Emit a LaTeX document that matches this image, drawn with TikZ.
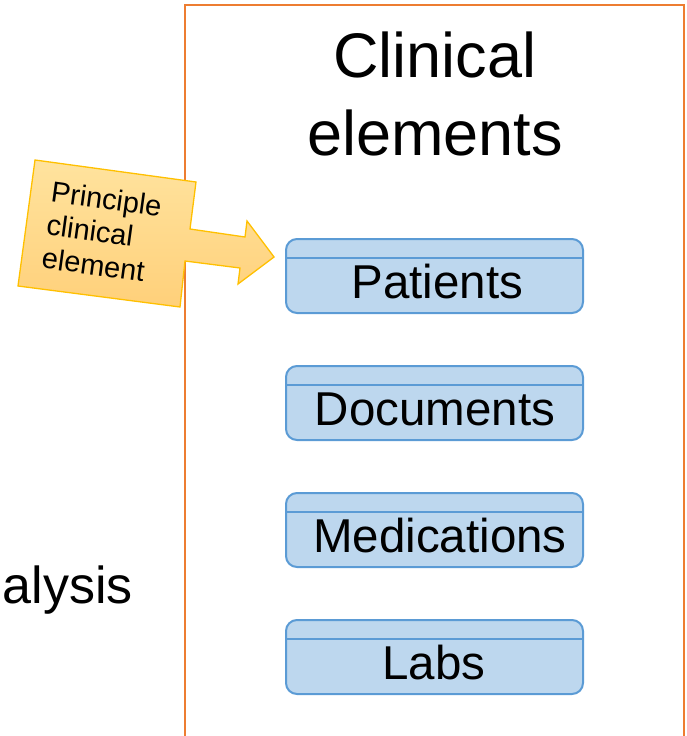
\documentclass[tikz,border=0pt]{standalone}
\usepackage{fontspec}
\setmainfont{Liberation Sans}
\begin{document}
\begin{tikzpicture}[x=1pt,y=-1pt,
  entbox/.style={draw=boxblue,line width=2pt,fill=boxfill,rounded corners=11pt,minimum width=297pt,minimum height=74pt,inner sep=0pt},
  entlabel/.style={font=\fontsize{47.5}{52}\selectfont,inner sep=0pt,anchor=base},
  titletext/.style={font=\fontsize{63}{75}\selectfont,inner sep=0pt,anchor=base}]
\definecolor{frameorange}{HTML}{ED7D31}
\definecolor{boxblue}{HTML}{5B9BD5}
\definecolor{boxfill}{HTML}{BDD7EE}
\definecolor{calloutborder}{HTML}{FFC000}
\definecolor{callouttop}{HTML}{FFE39E}
\definecolor{calloutbottom}{HTML}{FFD07A}
\useasboundingbox (0,0) rectangle (686,736);
% frame
\coordinate (fbl) at (185,745);
\coordinate (ftl) at (185,5);
\coordinate (ftr) at (684,5);
\coordinate (fbr) at (684,745);
\begin{scope}
\clip (0,0) rectangle (686,736);
\draw[frameorange,line width=2pt] (fbl) -- (ftl) -- (ftr) -- (fbr);
\end{scope}
\node[titletext] (title1) at (435,77) {Clinical};
\node[titletext] (title2) at (435,155) {elements};
\node[font=\fontsize{52}{60}\selectfont,anchor=base east,inner sep=0pt] (analysis) at (133,603) {alysis};
% boxes
\foreach \nm/\txt/\yy/\xx in {pat/Patients/276/437.5, doc/Documents/403/435, med/Medications/530/440, lab/Labs/657/434}{
  \node[entbox] (\nm) at (434.5,\yy) {};
  \draw[boxblue,line width=1.2pt] ([yshift=-20pt]\nm.north west) -- ([yshift=-20pt]\nm.north east);
  \node[entlabel] (\nm-t) at (\xx,\yy+22) {\txt};
}
% callout
\draw[calloutborder,line width=1.3pt,top color=callouttop,bottom color=calloutbottom]
  (35,160) -- (196,182) -- (190,229) -- (245,237) -- (247,221) -- (274,257) -- (238,284) -- (240,268) -- (185,261) -- (180,307) -- (18,286) -- cycle;
\node[rotate=-7.8,align=left,font=\fontsize{29}{33.5}\selectfont,inner sep=0pt] (callout) at (102,232) {Principle\\clinical\\element};
\end{tikzpicture}
\end{document}
